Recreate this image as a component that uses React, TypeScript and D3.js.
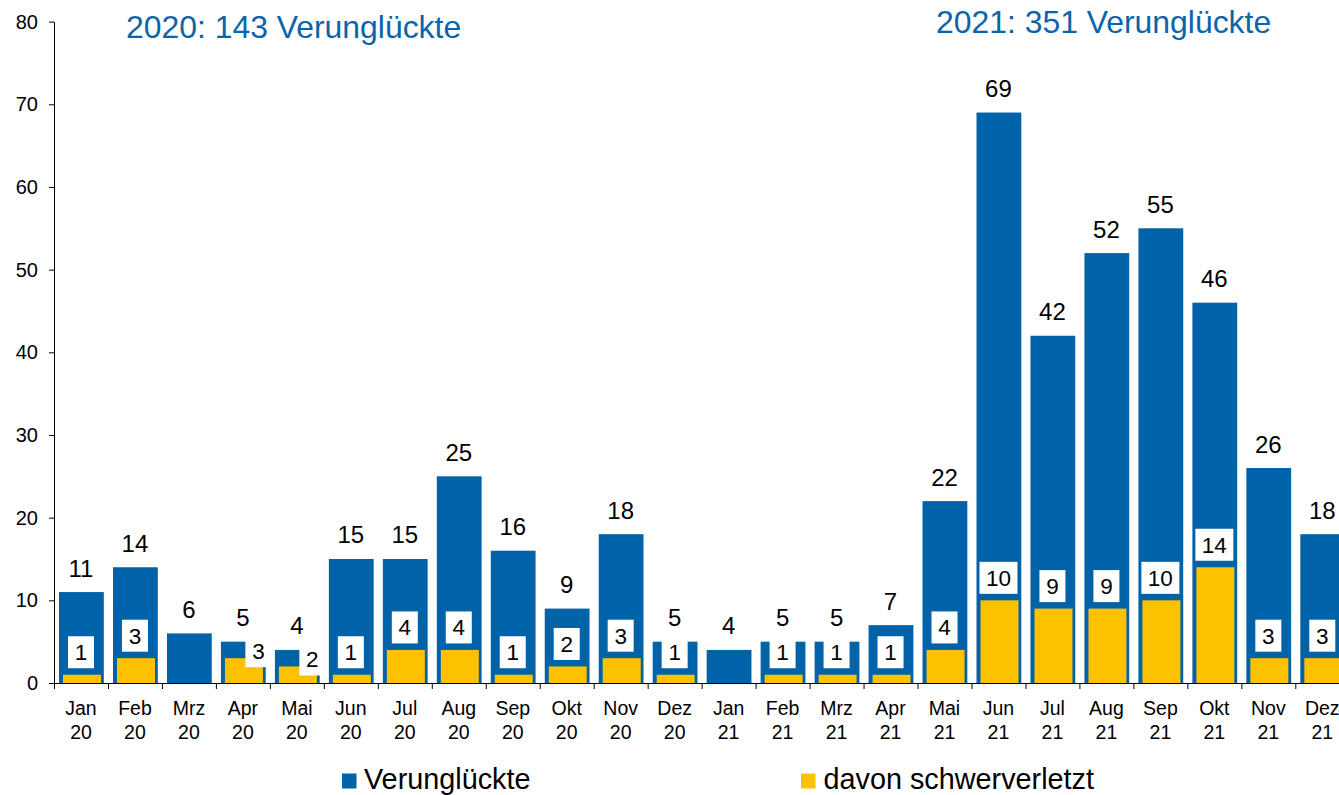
import React, { useEffect, useRef } from "react";
import * as d3 from "d3";

const width = 1339;
const height = 795;
const margin = { top: 21.6, left: 54, bottom: 112 };

const months = ["Jan", "Feb", "Mrz", "Apr", "Mai", "Jun", "Jul", "Aug", "Sep", "Okt", "Nov", "Dez"];
const years = ["20", "21"];
const categories = years.flatMap((y) => months.map((m) => m + " " + y));

const verunglueckte = [11, 14, 6, 5, 4, 15, 15, 25, 16, 9, 18, 5, 4, 5, 5, 7, 22, 69, 42, 52, 55, 46, 26, 18];
const schwerverletzt = [1, 3, 0, 3, 2, 1, 4, 4, 1, 2, 3, 1, 0, 1, 1, 1, 4, 10, 9, 9, 10, 14, 3, 3];

const yearTotals = [
  { label: "2020: 143 Verunglückte", x: 126, y: 38 },
  { label: "2021: 351 Verunglückte", x: 936, y: 33 },
];
const yTicks = [0, 10, 20, 30, 40, 50, 60, 70, 80];

const blue = "#0062A8";
const yellow = "#FCC200";
const font = "'Liberation Sans', Arial, sans-serif";

const step = 53.97;

export default function App() {
  const yAxisRef = useRef<SVGGElement>(null);

  const x = d3
    .scaleBand()
    .domain(categories)
    .range([margin.left, margin.left + step * categories.length]);
  const y = d3
    .scaleLinear()
    .domain([0, 80])
    .range([height - margin.bottom, margin.top]);

  const bw = x.bandwidth();

  useEffect(() => {
    const axis = d3
      .axisLeft(y)
      .tickValues(yTicks)
      .tickSize(5)
      .tickSizeOuter(0)
      .tickPadding(11);
    const g = d3.select(yAxisRef.current);
    g.call(axis as any);
    g.selectAll("text")
      .attr("font-family", font)
      .attr("font-size", 20)
      .attr("fill", "#000");
    g.selectAll("line, path").attr("stroke", "#000");
  }, []);

  return (
    <svg
      width={width}
      height={height}
      style={{ position: "fixed", left: 0, top: 0, background: "#fff" }}
    >
      {yearTotals.map((t) => (
        <text key={t.label} x={t.x} y={t.y} fontFamily={font} fontSize={31.9} fill="#0A64AB">
          {t.label}
        </text>
      ))}

      {/* bars */}
      {categories.map((c, i) => {
        const x0 = x(c) as number;
        const total = verunglueckte[i];
        const sev = schwerverletzt[i];
        return (
          <g key={c}>
            <rect
              x={x0 + bw * 0.093}
              width={bw * 0.83}
              y={y(total)}
              height={y(0) - y(total)}
              fill={blue}
            />
            {sev > 0 && (
              <rect
                x={x0 + bw * 0.167}
                width={bw * 0.704}
                y={y(sev)}
                height={y(0) - y(sev)}
                fill={yellow}
              />
            )}
          </g>
        );
      })}

      {/* labels */}
      {categories.map((c, i) => {
        const cx = (x(c) as number) + bw / 2;
        const total = verunglueckte[i];
        const sev = schwerverletzt[i];
        const boxW = String(sev).length > 1 ? 38 : 26;
        const boxH = 32;
        const crowded = total - sev < 3;
        const bx = crowded ? cx + 2.5 : cx - boxW / 2;
        const by = crowded ? y(sev) - 7 - boxH / 2 : y(sev) - 6.5 - boxH;
        return (
          <g key={c} fontFamily={font} fill="#000">
            <text x={cx} y={y(total) - 15.5} textAnchor="middle" fontSize={24}>
              {total}
            </text>
            {sev > 0 && (
              <g>
                <rect x={bx} y={by} width={boxW} height={boxH} fill="#fff" />
                <text
                  x={bx + boxW / 2}
                  y={by + boxH / 2}
                  dy="0.35em"
                  textAnchor="middle"
                  fontSize={22.5}
                >
                  {sev}
                </text>
              </g>
            )}
          </g>
        );
      })}

      {/* y axis */}
      <g ref={yAxisRef} transform={`translate(${margin.left},0)`} />

      {/* x axis */}
      <g>
        <line
          x1={margin.left}
          x2={margin.left + step * categories.length}
          y1={y(0) + 0.5}
          y2={y(0) + 0.5}
          stroke="#000"
        />
        {categories.map((c) => {
          const x0 = x(c) as number;
          const [m, yr] = c.split(" ");
          return (
            <g key={c}>
              <line x1={x0 + 0.5} x2={x0 + 0.5} y1={y(0)} y2={y(0) + 6} stroke="#000" />
              <text
                x={x0 + bw / 2}
                y={715}
                textAnchor="middle"
                fontFamily={font}
                fontSize={19.5}
              >
                {m}
              </text>
              <text
                x={x0 + bw / 2}
                y={738.5}
                textAnchor="middle"
                fontFamily={font}
                fontSize={19.5}
              >
                {yr}
              </text>
            </g>
          );
        })}
      </g>

      {/* legend */}
      <g fontFamily={font} fontSize={28.8}>
        <rect x={342} y={773.5} width={14.5} height={15} fill={blue} />
        <text x={364} y={789}>Verunglückte</text>
        <rect x={801} y={773.5} width={14.5} height={15} fill={yellow} />
        <text x={823.5} y={789}>davon schwerverletzt</text>
      </g>
    </svg>
  );
}
